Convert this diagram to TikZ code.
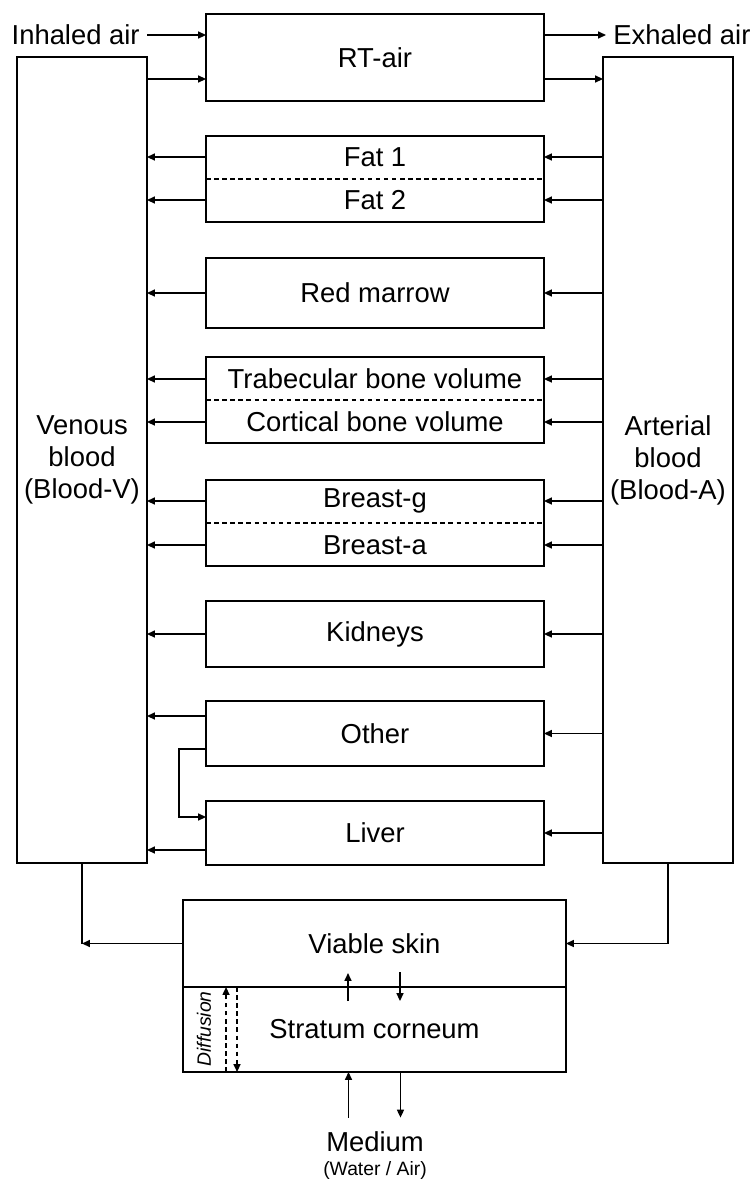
\documentclass[tikz,border=0pt]{standalone}
\usepackage{fontspec}
\setmainfont{Liberation Sans}
\usetikzlibrary{arrows.meta, positioning, calc}

\tikzset{
  txt/.style={inner sep=0pt, font=\fontsize{15.6}{18.2}\selectfont},
  small/.style={inner sep=0pt, font=\fontsize{11}{13}\selectfont},
  organ/.style={draw, line width=0.85pt, minimum width=6.76cm, inner sep=0pt,
                outer sep=0pt, font=\fontsize{15.6}{18.2}\selectfont},
  blood/.style={organ, minimum width=2.6cm, minimum height=16.12cm, align=center},
  split/.style={line width=0.8pt, dash pattern=on 2.6pt off 2pt},
  flow/.style={line width=0.8pt, -{Triangle[length=4.5pt,width=4pt]}}
}

\begin{document}
\begin{tikzpicture}[x=0.02cm, y=-0.02cm]
  \useasboundingbox (0,0) rectangle (750,1181);

  % blood pools
  \node[blood] (venous) at (82,460) {Venous\\blood\\(Blood-V)};
  \node[blood] (arterial) at (668,460) {Arterial\\blood\\(Blood-A)};

  % respiratory tract
  \node[organ, minimum height=1.74cm] (rtair) at (375,57.5) {RT-air};
  \node[txt, anchor=east, inner sep=0.14cm] (inhaled) at (147,35) {Inhaled air};
  \node[txt, anchor=west, inner sep=0.14cm] (exhaled) at (606,35) {Exhaled air};
  \draw[flow] (inhaled.east) -- (inhaled.east -| rtair.west);
  \draw[flow] (exhaled.west -| rtair.east) -- (exhaled.west);
  \draw[flow] ([yshift=-0.43cm]rtair.west -| venous.east) -- ([yshift=-0.43cm]rtair.west);
  \draw[flow] ([yshift=-0.43cm]rtair.east) -- ([yshift=-0.43cm]rtair.east -| arterial.west);

  % tissues
  \node[organ, minimum height=1.72cm] (fat) at (375,179) {};
  \draw[split] (fat.west) -- (fat.east);
  \node[txt] (fat1) at (375,157) {Fat 1};
  \node[txt] (fat2) at (375,200) {Fat 2};

  \node[organ, minimum height=1.4cm] (marrow) at (375,293) {Red marrow};

  \node[organ, minimum height=1.72cm] (bone) at (375,400) {};
  \draw[split] (bone.west) -- (bone.east);
  \node[txt] (bone1) at (375,379) {Trabecular bone volume};
  \node[txt] (bone2) at (375,422) {Cortical bone volume};

  \node[organ, minimum height=1.72cm] (breast) at (375,523) {};
  \draw[split] (breast.west) -- (breast.east);
  \node[txt] (breast1) at (375,501) {Breast-g};
  \node[txt] (breast2) at (375,545) {Breast-a};

  \node[organ, minimum height=1.32cm] (kidneys) at (375,634) {Kidneys};
  \node[organ, minimum height=1.3cm] (other) at (375,733.5) {Other};
  \node[organ, minimum height=1.28cm] (liver) at (375,833) {Liver};

  \foreach \tx/\bx in {fat1/fat, fat2/fat, marrow/marrow, bone1/bone, bone2/bone,
                       breast1/breast, breast2/breast, kidneys/kidneys}{
    \draw[flow] (\tx -| \bx.west) -- (\tx -| venous.east);
    \draw[flow] (\tx -| arterial.west) -- (\tx -| \bx.east);
  }

  % other -> liver
  \draw[flow] ([yshift=0.35cm]other.west) -- ([yshift=0.35cm]other.west -| venous.east);
  \draw[flow] (other.east -| arterial.west) -- (other.east);
  \draw[flow] ([yshift=-0.31cm]other.west) -- ++(-0.54cm,0) |- ([yshift=0.32cm]liver.west);
  \draw[flow] ([yshift=-0.34cm]liver.west) -- ([yshift=-0.34cm]liver.west -| venous.east);
  \draw[flow] (liver.east -| arterial.west) -- (liver.east);

  % skin
  \node[organ, minimum width=7.66cm, minimum height=1.74cm] (viable) at (374.5,943.5) {Viable skin};
  \node[organ, minimum width=7.66cm, minimum height=1.7cm] (stratum) at (374.5,1029.5) {Stratum corneum};
  \draw[line width=0.8pt] (venous.south) -- (viable.west -| venous.south);
  \draw[flow] (viable.west) -- (viable.west -| venous.south);
  \draw[flow] (arterial.south) |- (viable.east);
  \draw[flow] ([xshift=-0.53cm,yshift=-0.28cm]stratum.north) -- ([xshift=-0.53cm,yshift=0.28cm]stratum.north);
  \draw[flow] ([xshift=0.51cm,yshift=0.3cm]stratum.north) -- ([xshift=0.51cm,yshift=-0.28cm]stratum.north);

  % diffusion
  \draw[flow, split] ([xshift=0.86cm]stratum.south west) -- ([xshift=0.86cm]stratum.north west);
  \draw[flow, split] ([xshift=1.08cm]stratum.north west) -- ([xshift=1.08cm]stratum.south west);
  \node[small, rotate=90, font=\fontsize{11}{13}\selectfont\itshape] (diffusion) at (204,1029) {Diffusion};

  % medium
  \node[txt] (medium) at (375,1142) {Medium};
  \node[small] (mediumsub) at (375,1170) {(Water / Air)};
  \draw[flow] ([xshift=-0.53cm,yshift=0.28cm]medium.north) -- ([xshift=-0.53cm]medium.north |- stratum.south);
  \draw[flow] ([xshift=0.51cm]medium.north |- stratum.south) -- ([xshift=0.51cm,yshift=0.28cm]medium.north);
\end{tikzpicture}
\end{document}
